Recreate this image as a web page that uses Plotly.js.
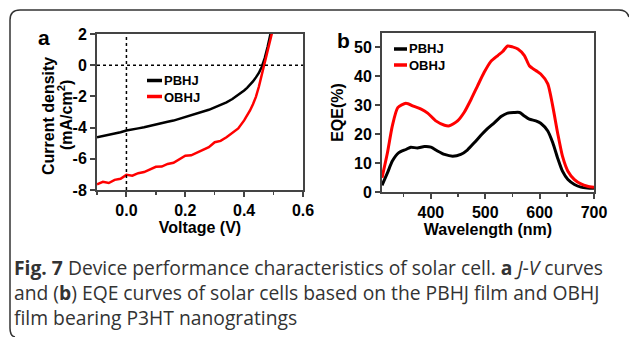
<!DOCTYPE html>
<html>
<head>
<meta charset="utf-8">
<script src="https://cdn.plot.ly/plotly-3.0.1.min.js"></script>
<style>html,body{margin:0;padding:0;background:#fff;}#chart{width:629px;height:337px;}</style>
</head>
<body>
<div id="chart"></div>
<script>
// ---- Panel a: J-V curves ----
const voltagePBHJ = [-0.10,-0.08,-0.06,-0.04,-0.02,0.00,0.02,0.04,0.06,0.08,0.10,0.12,0.14,0.16,0.18,0.20,0.22,0.24,0.26,0.28,0.30,0.32,0.34,0.36,0.38,0.40,0.41,0.42,0.43,0.44,0.45,0.46,0.47,0.48,0.49];
const currentPBHJ = [-4.62,-4.55,-4.47,-4.40,-4.30,-4.19,-4.14,-4.05,-3.98,-3.88,-3.80,-3.72,-3.62,-3.55,-3.43,-3.32,-3.22,-3.12,-2.99,-2.86,-2.70,-2.56,-2.38,-2.17,-1.92,-1.62,-1.45,-1.27,-1.04,-0.78,-0.50,-0.10,0.45,1.20,2.05];
const voltageOBHJ = [-0.10,-0.08,-0.06,-0.04,-0.02,0.00,0.02,0.04,0.06,0.08,0.10,0.12,0.14,0.16,0.18,0.20,0.22,0.24,0.26,0.28,0.30,0.32,0.34,0.36,0.38,0.40,0.41,0.42,0.43,0.44,0.45,0.46,0.47,0.48,0.49,0.495];
const currentOBHJ = [-7.63,-7.48,-7.55,-7.35,-7.28,-7.03,-7.08,-6.92,-6.85,-6.70,-6.51,-6.50,-6.33,-6.25,-6.05,-5.80,-5.78,-5.62,-5.45,-5.25,-4.94,-4.85,-4.62,-4.35,-4.05,-3.54,-3.25,-2.90,-2.50,-2.03,-1.38,-0.63,0.12,0.88,1.55,2.10];
const jvYTickVals = [-8,-6,-4,-2,0,2];
const jvYTickText = ['-8','-6','-4','-2','0','2'];

// ---- Panel b: EQE curves ----
const wavelengthRed = [310,320,329,339,354,369,382,394,409,425,434,449,461,474,486,498,510,523,532,541,550,560,572,581,593,602,615,624,633,642,652,664,676,688,700];
const eqeOBHJ = [4.9,13.6,22.9,29.2,30.7,29.6,28.7,27.3,24.6,23.1,22.9,24.6,27.5,32.1,36.8,41.4,45.1,47.2,48.6,50.5,50.2,49.5,47.2,43.7,42.0,40.8,37.4,29.8,20.5,12.4,7.2,4.3,2.8,2.0,1.6];
const wavelengthBlack = [310,320,329,341,354,363,375,388,400,412,425,440,455,467,480,492,504,517,529,541,553,563,572,581,593,602,615,624,633,642,652,664,676,688,700];
const eqePBHJ = [2.3,6.6,10.7,13.6,14.7,15.5,15.2,15.7,15.5,14.2,13.0,12.4,13.0,14.5,17.1,19.6,21.9,24.0,26.1,27.3,27.5,27.5,26.3,25.2,24.6,23.8,21.1,17.1,11.8,7.2,4.3,2.6,1.7,1.4,1.3];

const seriesNames = ['PBHJ','OBHJ'];
const seriesColors = ['#000000','#ff0000'];

const W = 629, H = 337;
const px = v => v / W;
const py = v => 1 - v / H;

const tickFont = {family:'Liberation Sans, Arial, sans-serif', size:16, color:'#000', weight:'bold'};
const titleFont = {family:'Liberation Sans, Arial, sans-serif', size:16, color:'#000', weight:'bold'};
const axisCommon = {
  showgrid:false, zeroline:false, showline:true, mirror:true,
  linecolor:'#444', linewidth:2, ticks:'outside', ticklen:5, tickwidth:2, tickcolor:'#444',
  tickfont:tickFont
};

const traces = [
  {x:voltagePBHJ, y:currentPBHJ, xaxis:'x', yaxis:'y', mode:'lines', name:seriesNames[0], line:{color:seriesColors[0], width:2.5}, showlegend:false},
  {x:voltageOBHJ, y:currentOBHJ, xaxis:'x', yaxis:'y', mode:'lines', name:seriesNames[1], line:{color:seriesColors[1], width:2.5}, showlegend:false},
  {x:wavelengthBlack, y:eqePBHJ, xaxis:'x2', yaxis:'y2', mode:'lines', name:seriesNames[0], line:{color:seriesColors[0], width:3, shape:'spline', smoothing:0.6}, showlegend:false},
  {x:wavelengthRed, y:eqeOBHJ, xaxis:'x2', yaxis:'y2', mode:'lines', name:seriesNames[1], line:{color:seriesColors[1], width:3, shape:'spline', smoothing:0.6}, showlegend:false}
];

const legendFont = {family:'Liberation Sans, Arial, sans-serif', size:13, weight:'bold', color:'#000'};
const capFont = {family:'Open Sans, Noto Sans, sans-serif', size:19.3, color:'#333'};

function ann(x, y, text, font, xa, ya, angle) {
  return {xref:'paper', yref:'paper', x:px(x), y:py(y), text:text, showarrow:false, font:font, align:'left',
          xanchor:xa||'center', yanchor:ya||'middle', borderpad:0, textangle:angle||0};
}

const legendText = '<b>' + seriesNames[0] + '</b><br><b>' + seriesNames[1] + '</b>';
const captionText = '<b>Fig. 7</b> Device performance characteristics of solar cell. <b>a</b> <i>J-V</i> curves<br>' +
  'and (<b>b</b>) EQE curves of solar cells based on the PBHJ film and OBHJ<br>' +
  'film bearing P3HT nanogratings';

const layout = {
  width:W, height:H, margin:{l:0,r:0,t:0,b:0}, paper_bgcolor:'#fff', plot_bgcolor:'#fff',
  showlegend:false,
  xaxis: Object.assign({}, axisCommon, {domain:[px(97), px(303)], range:[-0.1,0.6], dtick:0.2, tick0:0, tickformat:'.1f',
    minor:{dtick:0.1, tick0:0, ticks:'outside', ticklen:3, tickcolor:'#444', tickwidth:1.5},
    title:{text:'Voltage (V)', font:titleFont, standoff:4}, anchor:'y'}),
  yaxis: Object.assign({}, axisCommon, {domain:[py(190), py(34)], range:[-8,2], tickvals:jvYTickVals, ticktext:jvYTickText, anchor:'x'}),
  xaxis2: Object.assign({}, axisCommon, {domain:[px(382), px(594)], range:[310,700], dtick:100, tick0:400,
    minor:{dtick:50, tick0:400, ticks:'outside', ticklen:3, tickcolor:'#444', tickwidth:1.5},
    title:{text:'Wavelength (nm)', font:titleFont, standoff:4}, anchor:'y2'}),
  yaxis2: Object.assign({}, axisCommon, {domain:[py(192), py(33)], range:[0,55], dtick:10,
    title:{text:'EQE(%)', font:titleFont, standoff:6}, anchor:'x2'}),
  shapes: [
    {type:'line', xref:'x', yref:'y', x0:-0.1, x1:0.6, y0:0, y1:0, line:{color:'#000', width:1.5, dash:'dot'}},
    {type:'line', xref:'x', yref:'y', x0:0, x1:0, y0:-8, y1:2, line:{color:'#000', width:1.5, dash:'dot'}},
    {type:'line', xref:'paper', yref:'paper', x0:px(147), x1:px(162), y0:py(80.5), y1:py(80.5), line:{color:seriesColors[0], width:3.5}},
    {type:'line', xref:'paper', yref:'paper', x0:px(147), x1:px(162), y0:py(96.5), y1:py(96.5), line:{color:seriesColors[1], width:3.5}},
    {type:'line', xref:'paper', yref:'paper', x0:px(394), x1:px(407), y0:py(49), y1:py(49), line:{color:seriesColors[0], width:3.5}},
    {type:'line', xref:'paper', yref:'paper', x0:px(394), x1:px(407), y0:py(65), y1:py(65), line:{color:seriesColors[1], width:3.5}},
    {type:'path', xref:'paper', yref:'paper', line:{color:'#333', width:1.5},
     path:`M ${px(15)},${py(337)} Q ${px(10)},${py(336)} ${px(10)},${py(328)} L ${px(10)},${py(20)} Q ${px(10)},${py(10)} ${px(20)},${py(10)} L ${px(619)},${py(10)} Q ${px(627)},${py(10)} ${px(629)},${py(17)}`}
  ],
  annotations: [
    ann(44, 37, '<b>a</b>', {family:'Liberation Sans, Arial, sans-serif', size:21, color:'#000'}),
    ann(343, 40, '<b>b</b>', {family:'Liberation Sans, Arial, sans-serif', size:21, color:'#000'}),
    ann(48, 116, 'Current density', titleFont, 'center', 'middle', -90),
    ann(65, 115, '(mA/cm<sup>2</sup>)', titleFont, 'center', 'middle', -90),
    ann(163, 88.5, legendText, legendFont, 'left'),
    ann(408, 57, legendText, legendFont, 'left'),
    ann(13, 292, captionText, capFont, 'left')
  ]
};

Plotly.newPlot('chart', traces, layout, {staticPlot:true, displayModeBar:false});
</script>
</body>
</html>
